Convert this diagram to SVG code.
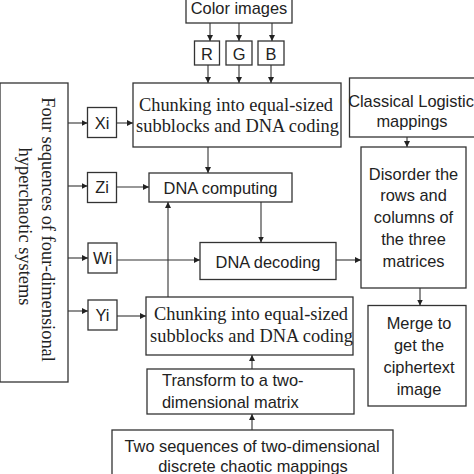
<svg xmlns="http://www.w3.org/2000/svg" width="474" height="474" viewBox="0 0 474 474">
<defs>
<marker id="ah" markerWidth="6" markerHeight="6" refX="6" refY="3" orient="auto" markerUnits="userSpaceOnUse">
<path d="M0,0 L6,3 L0,6 z" fill="#222"/>
</marker>
<style>
rect{fill:#fff;stroke:#333;stroke-width:1.3}
.s{font-family:"Liberation Sans",Arial,sans-serif;font-size:16.4px;fill:#222;text-anchor:middle}
.r{font-family:"Liberation Serif","Times New Roman",serif;font-size:18.4px;fill:#222;text-anchor:middle}
#conn line{stroke:#333;stroke-width:1.1;marker-end:url(#ah)}
</style>
</defs>
<rect x="0" y="0" width="474" height="474" style="fill:#fff;stroke:none"/>

<g id="color"><rect x="186" y="-1" width="106" height="24"/><text class="s" x="239" y="14">Color images</text></g>
<g id="R"><rect x="194.5" y="41" width="25" height="24"/><text class="s" x="207" y="60">R</text></g>
<g id="G"><rect x="226" y="41" width="26" height="24"/><text class="s" x="239" y="60">G</text></g>
<g id="B"><rect x="258" y="41" width="26" height="24"/><text class="s" x="271" y="60">B</text></g>

<g id="chunk1"><rect x="133" y="83" width="208" height="64"/>
<text class="r" x="236" y="111">Chunking into equal-sized</text>
<text class="r" x="237.5" y="132">subblocks and DNA coding</text></g>

<g id="logistic"><rect x="349.5" y="78" width="126" height="59"/>
<text class="s" x="411" y="107">Classical Logistic</text>
<text class="s" x="412" y="127">mappings</text></g>

<g id="left"><rect x="0" y="83" width="68" height="299"/>
<text class="r" transform="translate(42,229.5) rotate(90)">Four sequences of four-dimensional</text>
<text class="r" transform="translate(19,226.5) rotate(90)">hyperchaotic systems</text></g>

<g id="Xi"><rect x="87.5" y="107.5" width="29" height="30"/><text class="s" x="102" y="128.5">Xi</text></g>
<g id="Zi"><rect x="87.5" y="172.5" width="29" height="30"/><text class="s" x="102" y="193">Zi</text></g>
<g id="Wi"><rect x="88" y="243" width="29" height="30"/><text class="s" x="102.5" y="264">Wi</text></g>
<g id="Yi"><rect x="88" y="300" width="29" height="30"/><text class="s" x="102.5" y="321">Yi</text></g>

<g id="dnacomp"><rect x="149" y="173" width="143" height="29"/><text class="s" x="220.5" y="194">DNA computing</text></g>
<g id="dnadec"><rect x="200" y="242.5" width="136" height="37"/><text class="s" x="268" y="268">DNA decoding</text></g>

<g id="disorder"><rect x="361" y="147" width="105" height="141"/>
<text class="s" x="413.5" y="180">Disorder the</text>
<text class="s" x="413.5" y="201">rows and</text>
<text class="s" x="413.5" y="223">columns of</text>
<text class="s" x="413.5" y="245">the three</text>
<text class="s" x="413.5" y="267">matrices</text></g>

<g id="merge"><rect x="368" y="305.5" width="98" height="100.5"/>
<text class="s" x="419" y="329">Merge to</text>
<text class="s" x="419" y="351">get the</text>
<text class="s" x="419" y="373">ciphertext</text>
<text class="s" x="419" y="395">image</text></g>

<g id="chunk2"><rect x="146" y="297" width="207" height="58"/>
<text class="r" x="251" y="320">Chunking into equal-sized</text>
<text class="r" x="251.5" y="342">subblocks and DNA coding</text></g>

<g id="transform"><rect x="147" y="369" width="207" height="45"/>
<text class="s" x="162" y="386" style="text-anchor:start">Transform to a two-</text>
<text class="s" x="162" y="408" style="text-anchor:start">dimensional matrix</text></g>

<g id="twoseq"><rect x="112" y="430" width="281" height="50"/>
<text class="s" x="252" y="452">Two sequences of two-dimensional</text>
<text class="s" x="253" y="472">discrete chaotic mappings</text></g>

<g id="conn">
<line x1="210" y1="23" x2="210" y2="41"/>
<line x1="239" y1="23" x2="239" y2="41"/>
<line x1="272" y1="23" x2="272" y2="41"/>
<line x1="208" y1="65" x2="208" y2="83"/>
<line x1="239" y1="65" x2="239" y2="83"/>
<line x1="271" y1="65" x2="271" y2="83"/>
<line x1="68" y1="123" x2="87.5" y2="123"/>
<line x1="116.5" y1="123" x2="133" y2="123"/>
<line x1="68" y1="186" x2="87.5" y2="186"/>
<line x1="116.5" y1="187" x2="149" y2="187"/>
<line x1="68" y1="258" x2="88" y2="258"/>
<line x1="117" y1="260" x2="200" y2="260"/>
<line x1="68" y1="311" x2="88" y2="311"/>
<line x1="117" y1="316" x2="146" y2="316"/>
<line x1="208" y1="147" x2="208" y2="173"/>
<line x1="261" y1="202" x2="261" y2="242.5"/>
<line x1="168" y1="297" x2="168" y2="202"/>
<line x1="336" y1="260" x2="361" y2="260"/>
<line x1="407" y1="137" x2="407" y2="147"/>
<line x1="420" y1="288" x2="420" y2="305.5"/>
<line x1="252" y1="369" x2="252" y2="355"/>
<line x1="252" y1="430" x2="252" y2="414"/>
</g>
</svg>
